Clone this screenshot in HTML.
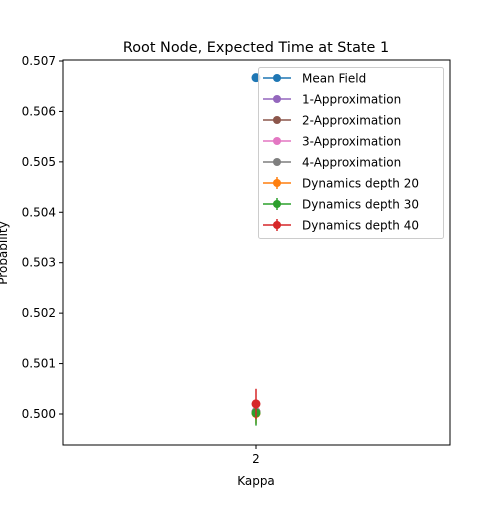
<!DOCTYPE html>
<html><head><meta charset="utf-8"><style>
body{margin:0;background:#fff;font-family:"Liberation Sans","DejaVu Sans",sans-serif}
svg text{font-family:"DejaVu Sans","Liberation Sans",sans-serif;font-size:12px;fill:#000}
</style></head><body>
<svg id="c" width="500" height="500"></svg>
<script>
const categories=[2];
const seriesNames=["Mean Field","1-Approximation","2-Approximation","3-Approximation","4-Approximation","Dynamics depth 20","Dynamics depth 30","Dynamics depth 40"];
const seriesColors=["#1f77b4","#9467bd","#8c564b","#e377c2","#7f7f7f","#ff7f0e","#2ca02c","#d62728"];
const seriesValues=[0.50667,0.50004,0.50004,0.50004,0.50004,0.50001,0.50002,0.50020];
const seriesErrors=[0,0,0,0,0,0.0002,0.00025,0.0003];
const yTicks=[0.500,0.501,0.502,0.503,0.504,0.505,0.506,0.507];
const NS="http://www.w3.org/2000/svg";
const svg=document.getElementById('c');
function mk(t,a,p){const e=document.createElementNS(NS,t);for(const k in a)e.setAttribute(k,a[k]);(p||svg).appendChild(e);return e;}
const L=63,R=450,T=60,B=445;
const y=v=>414-(v-0.5)/0.001*50.43;
const x=c=>256;
for(const t of yTicks){const g=mk('g',{});

mk('line',{x1:L-4,x2:L,y1:y(t),y2:y(t),stroke:'#000'},g);
const tx=mk('text',{x:L-7,y:y(t)+4,'text-anchor':'end'},g);tx.textContent=t.toFixed(3);}
for(const c of categories){const g=mk('g',{});

mk('line',{x1:x(c),x2:x(c),y1:B,y2:B+4,stroke:'#000'},g);
const tx=mk('text',{x:x(c),y:B+18,'text-anchor':'middle'},g);tx.textContent=c;}
seriesNames.forEach((n,i)=>{const g=mk('g',{});


categories.forEach(c=>{const v=seriesValues[i],e=seriesErrors[i];
if(e>0)mk('line',{x1:x(c),x2:x(c),y1:y(v-e),y2:y(v+e),stroke:seriesColors[i],'stroke-width':1.5},g);
mk('circle',{cx:x(c),cy:y(v),r:4.5,fill:seriesColors[i]},g);});});
const frame=mk('rect',{x:L,y:T,width:R-L,height:B-T,fill:'none',stroke:'#000','stroke-width':1});

const title=mk('text',{x:256,y:52,'text-anchor':'middle',style:'font-size:14.4px'});title.textContent='Root Node, Expected Time at State 1';

const xl=mk('text',{x:256,y:485,'text-anchor':'middle'});xl.textContent='Kappa';

const yl=mk('text',{x:0,y:0,'text-anchor':'middle',transform:'translate(7,253) rotate(-90)'});yl.textContent='Probability';

const lg=mk('g',{});
mk('rect',{x:258.5,y:67.5,width:185,height:171,rx:2,fill:'#fff','fill-opacity':0.8,stroke:'#ccc'},lg);
seriesNames.forEach((n,i)=>{const ry=78+i*21;const g=mk('g',{},lg);

mk('line',{x1:263,x2:291,y1:ry,y2:ry,stroke:seriesColors[i],'stroke-width':1.5},g);
if(seriesErrors[i]>0)mk('line',{x1:277,x2:277,y1:ry-6,y2:ry+6,stroke:seriesColors[i],'stroke-width':1.5},g);
mk('circle',{cx:277,cy:ry,r:4,fill:seriesColors[i]},g);
const t=mk('text',{x:302,y:ry+4.5},g);t.textContent=n;});
</script>
</body></html>
